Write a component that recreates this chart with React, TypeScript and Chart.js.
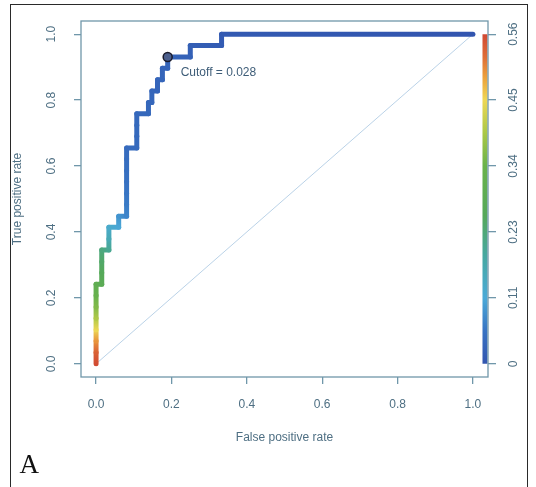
import React, { useEffect, useRef } from "react";
import { Chart, registerables } from "chart.js";

Chart.register(...registerables);

// ROC curve vertices: false positive rate, true positive rate and the
// classifier cutoff that produces each vertex.
const FPR = [
  0, 0, 0, 0, 0, 0, 0, 0,
  0.015, 0.015, 0.015, 0.015,
  0.034, 0.034, 0.034,
  0.06, 0.06,
  0.081, 0.081, 0.081, 0.081, 0.081, 0.081, 0.081,
  0.108, 0.108, 0.108, 0.108,
  0.139, 0.139,
  0.148, 0.148,
  0.163, 0.163,
  0.176, 0.176,
  0.19, 0.19,
  0.25, 0.25,
  0.333, 0.333,
  1,
];
const TPR = [
  0, 0.034, 0.069, 0.103, 0.138, 0.172, 0.207, 0.241,
  0.241, 0.276, 0.31, 0.345,
  0.345, 0.379, 0.414,
  0.414, 0.448,
  0.448, 0.483, 0.517, 0.552, 0.586, 0.621, 0.655,
  0.655, 0.69, 0.724, 0.759,
  0.759, 0.793,
  0.793, 0.828,
  0.828, 0.862,
  0.862, 0.897,
  0.897, 0.931,
  0.931, 0.966,
  0.966, 1,
  1,
];
const CUTOFF = [
  0.56, 0.54, 0.5, 0.45, 0.4, 0.36, 0.33, 0.3,
  0.28, 0.26, 0.24, 0.22,
  0.2, 0.16, 0.13,
  0.11, 0.09,
  0.075, 0.065, 0.058, 0.052, 0.048, 0.045, 0.042,
  0.04, 0.038, 0.037, 0.036,
  0.035, 0.034,
  0.033, 0.032,
  0.031, 0.03,
  0.03, 0.029,
  0.029, 0.028,
  0.022, 0.018,
  0.012, 0.009,
  0,
];

// Chosen operating point
const BEST_FPR = [0.19];
const BEST_TPR = [0.931];
const BEST_CUTOFF = 0.028;

// Chance line
const CHANCE_FPR = [0, 1];
const CHANCE_TPR = [0, 1];

// Axis ticks
const X_TICKS = [0, 0.2, 0.4, 0.6, 0.8, 1];
const Y_TICKS = [0, 0.2, 0.4, 0.6, 0.8, 1];
const CUTOFF_MAX = 0.5645;
const CUTOFF_TICK_LABELS = ["0", "0.11", "0.23", "0.34", "0.45", "0.56"];

const X_TITLE = "False positive rate";
const Y_TITLE = "True positive rate";
const PANEL_LABEL = "A";

// Styling
const AXIS_COLOR = "#7097aa";
const TEXT_COLOR = "#4e6f83";
const NOTE_COLOR = "#3e5d78";
const FONT = "'Liberation Sans', Arial, Helvetica, sans-serif";
const KEY_X = 1.032; // horizontal place of the colour key, in FPR units
const EXT = 0.04; // R-style 4% axis extension

// Cutoff colour ramp (fraction of max cutoff -> rgb)
const RAMP: [number, number[]][] = [
  [0, [50, 85, 175]],
  [0.1, [55, 115, 195]],
  [0.2, [75, 170, 215]],
  [0.33, [70, 168, 160]],
  [0.45, [85, 168, 90]],
  [0.6, [105, 178, 75]],
  [0.7, [170, 200, 70]],
  [0.8, [238, 215, 85]],
  [0.87, [235, 160, 60]],
  [0.93, [222, 110, 55]],
  [1, [208, 72, 50]],
];

function rgb(c: number[]) {
  return `rgb(${Math.round(c[0])},${Math.round(c[1])},${Math.round(c[2])})`;
}

function colorFor(cut: number) {
  const f = Math.max(0, Math.min(1, cut / CUTOFF_MAX));
  for (let i = 1; i < RAMP.length; i++) {
    const [f1, c1] = RAMP[i];
    const [f0, c0] = RAMP[i - 1];
    if (f <= f1) {
      const t = (f - f0) / (f1 - f0 || 1);
      return rgb([0, 1, 2].map((k) => c0[k] + (c1[k] - c0[k]) * t));
    }
  }
  return rgb(RAMP[RAMP.length - 1][1]);
}

const rocDecor = {
  id: "rocDecor",
  afterDatasetsDraw(chart: any) {
    const { ctx, chartArea: a, scales } = chart;
    const x = scales.x;
    const y = scales.y;
    const y2 = scales.y2;
    ctx.save();

    // colour key for the cutoff scale
    const kx = x.getPixelForValue(KEY_X);
    const kTop = y2.getPixelForValue(CUTOFF_MAX);
    const kBottom = y2.getPixelForValue(0);
    const grad = ctx.createLinearGradient(0, kBottom, 0, kTop);
    RAMP.forEach(([f, c]) => grad.addColorStop(f, rgb(c)));
    ctx.strokeStyle = grad;
    ctx.lineWidth = 5;
    ctx.lineCap = "butt";
    ctx.beginPath();
    ctx.moveTo(kx, kBottom);
    ctx.lineTo(kx, kTop);
    ctx.stroke();

    // plot frame
    ctx.strokeStyle = AXIS_COLOR;
    ctx.lineWidth = 1.3;
    ctx.strokeRect(a.left, a.top, a.right - a.left, a.bottom - a.top);

    ctx.fillStyle = TEXT_COLOR;
    ctx.font = `12px ${FONT}`;
    ctx.textAlign = "center";
    ctx.textBaseline = "middle";

    // left tick labels (vertical)
    y.ticks.forEach((t: any) => {
      const py = y.getPixelForValue(t.value);
      ctx.save();
      ctx.translate(a.left - 29, py);
      ctx.rotate(-Math.PI / 2);
      ctx.fillText(Number(t.value).toFixed(1), 0, 0);
      ctx.restore();
    });

    // right tick labels (cutoff)
    y2.ticks.forEach((t: any, i: number) => {
      const py = y2.getPixelForValue(t.value);
      ctx.save();
      ctx.translate(a.right + 26, py);
      ctx.rotate(-Math.PI / 2);
      ctx.fillText(CUTOFF_TICK_LABELS[i], 0, 0);
      ctx.restore();
    });

    // axis titles
    const cx = (a.left + a.right) / 2;
    const cy = (a.top + a.bottom) / 2;
    ctx.fillText(X_TITLE, cx, a.bottom + 61);
    ctx.save();
    ctx.translate(18, cy);
    ctx.rotate(-Math.PI / 2);
    ctx.fillText(Y_TITLE, 0, 0);
    ctx.restore();

    // cutoff annotation next to the chosen point
    const bx = x.getPixelForValue(BEST_FPR[0]);
    const by = y.getPixelForValue(BEST_TPR[0]);
    ctx.fillStyle = NOTE_COLOR;
    ctx.textAlign = "left";
    ctx.fillText(`Cutoff = ${BEST_CUTOFF}`, bx + 13, by + 16);

    ctx.restore();
  },
};

export default function App() {
  const ref = useRef<HTMLCanvasElement | null>(null);

  useEffect(() => {
    if (!ref.current) return;
    const rocPoints = FPR.map((v, i) => ({ x: v, y: TPR[i] }));
    const chancePoints = CHANCE_FPR.map((v, i) => ({ x: v, y: CHANCE_TPR[i] }));
    const bestPoints = BEST_FPR.map((v, i) => ({ x: v, y: BEST_TPR[i] }));

    const tickGrid = (len: number) => ({
      display: true,
      drawOnChartArea: false,
      drawTicks: true,
      tickLength: len,
      color: AXIS_COLOR,
      lineWidth: 1.3,
    });

    const chart = new Chart(ref.current, {
      type: "line",
      data: {
        datasets: [
          {
            type: "scatter",
            data: bestPoints,
            pointRadius: 4.5,
            pointBorderWidth: 1.5,
            pointBackgroundColor: "#4c5f8c",
            pointBorderColor: "#1b1b2b",
            order: 0,
          } as any,
          {
            data: rocPoints,
            borderWidth: 5,
            borderCapStyle: "round",
            borderJoinStyle: "round",
            pointRadius: 0,
            fill: false,
            tension: 0,
            borderColor: colorFor(0),
            segment: {
              borderColor: (c: any) => {
                const g = c.chart.ctx.createLinearGradient(c.p0.x, c.p0.y, c.p1.x, c.p1.y);
                g.addColorStop(0, colorFor(CUTOFF[c.p0DataIndex]));
                g.addColorStop(1, colorFor(CUTOFF[c.p1DataIndex]));
                return g;
              },
            },
            order: 1,
          },
          {
            data: chancePoints,
            borderWidth: 1,
            borderColor: "rgba(140,180,215,0.6)",
            pointRadius: 0,
            fill: false,
            order: 2,
          },
        ],
      },
      options: {
        responsive: false,
        animation: false,
        devicePixelRatio: 1,
        events: [],
        layout: { padding: { top: 21, left: 0, right: 0, bottom: 0 } },
        plugins: {
          legend: { display: false },
          tooltip: { enabled: false },
          title: { display: false },
        },
        scales: {
          x: {
            type: "linear",
            position: "bottom",
            min: -EXT,
            max: 1 + EXT,
            afterBuildTicks: (s: any) => {
              s.ticks = X_TICKS.map((v) => ({ value: v }));
            },
            afterFit: (s: any) => {
              s.height = 110;
            },
            grid: tickGrid(7),
            border: { display: false },
            ticks: {
              color: TEXT_COLOR,
              font: { family: FONT, size: 12 },
              padding: 13,
              maxRotation: 0,
              callback: (v: any) => Number(v).toFixed(1),
            },
          },
          y: {
            type: "linear",
            position: "left",
            min: -EXT,
            max: 1 + EXT,
            afterBuildTicks: (s: any) => {
              s.ticks = Y_TICKS.map((v) => ({ value: v }));
            },
            afterFit: (s: any) => {
              s.width = 81;
            },
            grid: tickGrid(7),
            border: { display: false },
            ticks: { display: false },
          },
          y2: {
            type: "linear",
            position: "right",
            min: -EXT * CUTOFF_MAX,
            max: (1 + EXT) * CUTOFF_MAX,
            afterBuildTicks: (s: any) => {
              s.ticks = CUTOFF_TICK_LABELS.map((_, i) => ({
                value: (CUTOFF_MAX * i) / (CUTOFF_TICK_LABELS.length - 1),
              }));
            },
            afterFit: (s: any) => {
              s.width = 48;
            },
            grid: tickGrid(8),
            border: { display: false },
            ticks: { display: false },
          },
        },
      } as any,
      plugins: [rocDecor],
    });

    return () => chart.destroy();
  }, []);

  return (
    <div
      style={{
        position: "absolute",
        left: 0,
        top: 0,
        width: 536,
        height: 487,
        background: "#fff",
        overflow: "hidden",
      }}
    >
      <canvas ref={ref} width={536} height={487} style={{ display: "block" }} />
      <div
        style={{
          position: "absolute",
          left: 10,
          top: 4,
          width: 518,
          height: 500,
          borderTop: "1px solid #2a2a2a",
          borderLeft: "1px solid #2a2a2a",
          borderRight: "1px solid #2a2a2a",
          boxSizing: "border-box",
          pointerEvents: "none",
        }}
      />
      <span
        style={{
          position: "absolute",
          left: 19.5,
          top: 451,
          fontFamily: "'Liberation Serif', 'Times New Roman', serif",
          fontSize: 27,
          lineHeight: 1,
          color: "#111",
        }}
      >
        {PANEL_LABEL}
      </span>
    </div>
  );
}
